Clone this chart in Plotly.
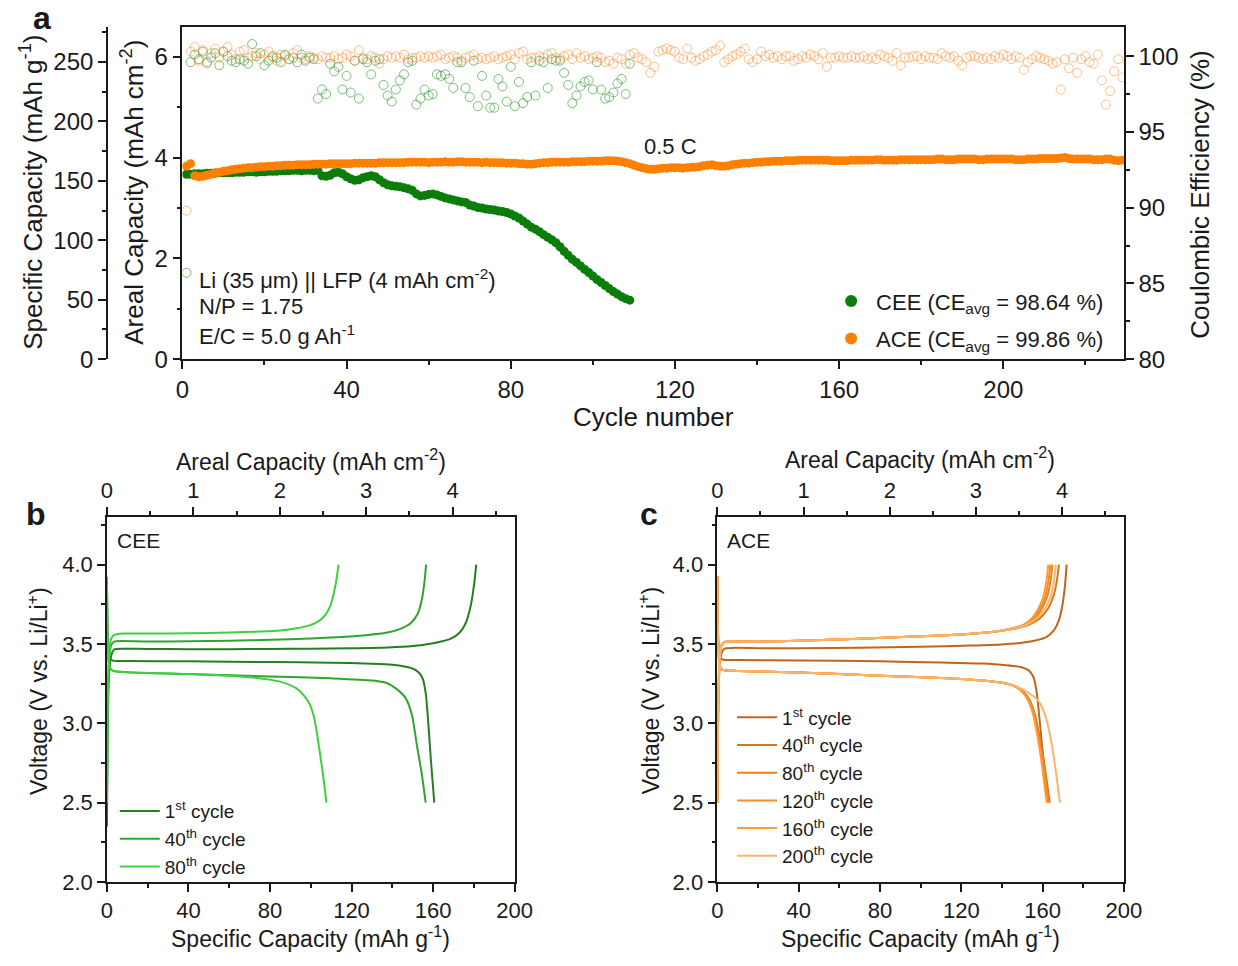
import plotly.graph_objects as go

W, H = 1238, 966
FONT = "Liberation Sans, Arial, sans-serif"
INK = "#1a1a1a"

# ---------------- Panel a data ----------------
cee_capacity = [  # areal capacity, mAh cm-2, cycles 1-109
    3.67, 3.67, 3.68, 3.68, 3.68, 3.69, 3.69, 3.69, 3.70, 3.70,
    3.70, 3.70, 3.71, 3.71, 3.71, 3.72, 3.72, 3.71, 3.72, 3.72,
    3.73, 3.73, 3.73, 3.74, 3.74, 3.74, 3.75, 3.75, 3.74, 3.75,
    3.75, 3.74, 3.75, 3.64, 3.63, 3.65, 3.70, 3.71, 3.68, 3.62,
    3.58, 3.55, 3.56, 3.60, 3.62, 3.64, 3.62, 3.56, 3.50, 3.46,
    3.44, 3.43, 3.42, 3.40, 3.38, 3.35, 3.28, 3.24, 3.25, 3.27,
    3.28, 3.26, 3.23, 3.20, 3.18, 3.16, 3.14, 3.12, 3.11, 3.06,
    3.04, 3.01, 3.00, 2.98, 2.97, 2.96, 2.94, 2.93, 2.91, 2.88,
    2.84, 2.80, 2.74, 2.68, 2.62, 2.58, 2.53, 2.47, 2.42, 2.37,
    2.31, 2.23, 2.14, 2.06, 1.98, 1.92, 1.85, 1.78, 1.72, 1.65,
    1.58, 1.52, 1.46, 1.40, 1.34, 1.29, 1.24, 1.20, 1.17]

ace_capacity = [  # areal capacity, mAh cm-2, cycles 1-229
    3.83, 3.88, 3.64, 3.62, 3.63, 3.65, 3.67, 3.70, 3.71, 3.73,
    3.74, 3.76, 3.77, 3.78, 3.79, 3.80, 3.80, 3.81, 3.82, 3.82,
    3.83, 3.83, 3.84, 3.84, 3.85, 3.85, 3.85, 3.86, 3.86, 3.86,
    3.86, 3.87, 3.87, 3.87, 3.87, 3.88, 3.88, 3.88, 3.88, 3.88,
    3.88, 3.89, 3.89, 3.89, 3.89, 3.89, 3.89, 3.90, 3.90, 3.90,
    3.90, 3.90, 3.90, 3.90, 3.91, 3.91, 3.91, 3.91, 3.91, 3.90,
    3.91, 3.91, 3.91, 3.92, 3.91, 3.91, 3.92, 3.92, 3.91, 3.91,
    3.91, 3.91, 3.90, 3.91, 3.90, 3.90, 3.90, 3.90, 3.89, 3.89,
    3.89, 3.88, 3.88, 3.87, 3.87, 3.88, 3.89, 3.90, 3.90, 3.91,
    3.91, 3.91, 3.91, 3.91, 3.92, 3.92, 3.92, 3.92, 3.93, 3.93,
    3.93, 3.93, 3.94, 3.94, 3.94, 3.93, 3.92, 3.90, 3.88, 3.85,
    3.82, 3.80, 3.78, 3.77, 3.77, 3.78, 3.79, 3.79, 3.80, 3.80,
    3.80, 3.79, 3.80, 3.81, 3.81, 3.82, 3.84, 3.85, 3.86, 3.84,
    3.83, 3.83, 3.84, 3.86, 3.87, 3.88, 3.89, 3.89, 3.90, 3.91,
    3.91, 3.92, 3.92, 3.93, 3.93, 3.93, 3.94, 3.94, 3.94, 3.95,
    3.95, 3.95, 3.95, 3.95, 3.95, 3.95, 3.95, 3.94, 3.94, 3.94,
    3.94, 3.94, 3.95, 3.95, 3.95, 3.95, 3.95, 3.95, 3.96, 3.96,
    3.95, 3.95, 3.95, 3.95, 3.96, 3.96, 3.96, 3.96, 3.96, 3.96,
    3.96, 3.96, 3.96, 3.97, 3.97, 3.96, 3.96, 3.96, 3.97, 3.97,
    3.97, 3.97, 3.97, 3.96, 3.96, 3.97, 3.97, 3.97, 3.97, 3.97,
    3.97, 3.97, 3.96, 3.96, 3.96, 3.97, 3.97, 3.97, 3.98, 3.98,
    3.98, 3.98, 3.98, 3.99, 4.00, 3.98, 3.97, 3.97, 3.97, 3.97,
    3.97, 3.96, 3.96, 3.96, 3.97, 3.97, 3.95, 3.94, 3.95]

cee_ce = [  # Coulombic efficiency %, cycles 1-109
    85.7, 99.6, 100.1, 99.8, 100.3, 99.6, 99.9, 100.2, 99.4, 100.3,
    100.0, 99.7, 99.6, 99.8, 99.7, 99.5, 100.8, 100.0, 100.2, 99.4,
    99.7, 100.0, 99.9, 99.6, 100.1, 99.8, 99.9, 99.6, 100.1, 99.7,
    99.9, 99.8, 97.2, 97.8, 97.5, 99.5, 99.0, 99.3, 97.8, 98.7,
    97.6, 99.7, 97.2, 99.8, 99.6, 98.8, 99.7, 99.8, 98.1, 97.4,
    97.0, 97.8, 98.4, 98.8, 99.6, 99.7, 96.8, 97.2, 97.8, 97.4,
    97.5, 98.8, 98.7, 98.8, 98.5, 97.9, 99.6, 99.6, 97.9, 97.3,
    99.7, 96.7, 98.7, 97.4, 96.6, 96.6, 98.5, 98.0, 97.0, 99.3,
    96.7, 98.3, 96.9, 97.3, 99.6, 97.4, 99.7, 99.6, 97.9, 99.8,
    99.7, 99.7, 98.9, 98.1, 96.9, 97.4, 98.0, 98.3, 98.4, 97.8,
    99.6, 97.8, 97.2, 97.3, 97.6, 98.2, 98.5, 97.5, 99.5]

ace_ce = [  # Coulombic efficiency %, cycles 1-229
    89.8, 100.3, 100.6, 99.7, 100.4, 99.5, 100.2, 100.5, 99.9, 100.3,
    100.6, 100.1, 99.8, 100.3, 100.4, 99.9, 100.0, 100.2, 99.8, 100.1,
    100.3, 99.9, 99.7, 100.1, 100.0, 99.8, 100.2, 100.4, 99.9, 99.8,
    100.0, 99.9, 99.8, 100.0, 99.9, 99.9, 100.0, 99.8, 99.9, 100.1,
    100.0, 99.7, 100.4, 99.9, 99.8, 100.0, 99.9, 99.5, 99.8, 100.0,
    99.9, 100.0, 99.9, 100.1, 99.8, 99.9, 99.9, 100.0, 99.9, 100.0,
    99.9, 100.0, 100.1, 99.8, 99.9, 100.0, 99.9, 99.7, 99.9, 100.0,
    100.1, 99.8, 99.9, 99.8, 99.9, 100.0, 99.8, 99.9, 100.0, 100.1,
    99.8, 100.2, 100.3, 99.8, 99.9, 99.9, 100.0, 99.9, 100.1, 100.2,
    99.9, 99.8, 100.0, 100.1, 99.8, 100.2, 99.9, 100.0, 99.8, 99.9,
    100.0, 99.9, 99.6, 99.7, 99.5, 99.9, 99.8, 99.5, 100.1, 100.2,
    99.9, 99.8, 99.6, 98.9, 99.3, 100.3, 100.4, 100.5, 100.4, 100.3,
    99.9, 99.8, 100.5, 99.9, 99.7, 99.8, 100.0, 100.1, 100.3, 100.4,
    100.7, 99.6, 99.8, 100.0, 100.1, 100.3, 100.5, 99.8, 99.6, 99.8,
    100.3, 100.0, 100.1, 99.9, 100.0, 99.8, 100.0, 100.0, 99.7, 99.8,
    100.0, 99.9, 100.1, 100.0, 99.8, 100.2, 99.3, 99.9, 99.9, 100.0,
    99.9, 99.9, 100.0, 99.9, 99.9, 100.0, 99.8, 99.9, 99.8, 100.1,
    100.0, 99.9, 99.7, 100.2, 99.4, 99.9, 99.9, 100.0, 100.0, 99.8,
    100.0, 99.9, 99.9, 99.8, 100.2, 100.0, 99.9, 100.0, 99.7, 99.4,
    99.9, 100.0, 100.0, 99.9, 99.8, 99.9, 99.8, 100.0, 99.9, 100.1,
    100.0, 99.8, 100.0, 99.9, 99.1, 99.6, 99.8, 100.0, 99.9, 99.8,
    99.7, 99.5, 99.6, 97.8, 99.8, 99.2, 99.9, 98.9, 99.8, 100.0,
    99.6, 99.5, 100.1, 98.4, 96.8, 97.7, 99.0, 99.8, 98.6]

cee_cycles = list(range(1, len(cee_capacity) + 1))
ace_cycles = list(range(1, len(ace_capacity) + 1))
cee_ce_cycles = list(range(1, len(cee_ce) + 1))
ace_ce_cycles = list(range(1, len(ace_ce) + 1))

# conversion between specific (mAh g-1) and areal (mAh cm-2) capacity
SPEC_PER_AREAL = 42.4

# ---------------- Panel b data (CEE voltage profiles) ----------------
cee1_chg_cap = [0, 0.4, 1.0, 2.0, 3.5, 8, 20, 40, 60, 80, 100, 120, 138, 150, 158, 164, 169, 173, 176, 178.5, 180.2, 181.2]
cee1_chg_v = [2.35, 3.00, 3.30, 3.42, 3.465, 3.47, 3.468, 3.467, 3.467, 3.468, 3.47, 3.473, 3.478, 3.487, 3.50, 3.515, 3.535, 3.57, 3.63, 3.74, 3.88, 4.00]
cee1_dis_cap = [0, 0.3, 0.8, 1.5, 3, 10, 40, 80, 110, 130, 140, 146, 150, 153, 155, 156.5, 157.8, 159.0, 160.0, 160.6]
cee1_dis_v = [3.92, 3.60, 3.45, 3.41, 3.395, 3.393, 3.39, 3.386, 3.382, 3.375, 3.368, 3.358, 3.345, 3.32, 3.28, 3.18, 2.98, 2.76, 2.60, 2.50]

cee40_chg_cap = [0, 0.4, 1.0, 2.0, 3.5, 8, 20, 40, 60, 80, 100, 115, 127, 137, 144, 149, 152.5, 154.5, 155.8, 156.6]
cee40_chg_v = [2.50, 3.10, 3.38, 3.49, 3.515, 3.518, 3.515, 3.516, 3.52, 3.526, 3.534, 3.543, 3.555, 3.57, 3.595, 3.63, 3.69, 3.78, 3.89, 4.00]
cee40_dis_cap = [0, 0.3, 0.8, 1.5, 3, 10, 40, 80, 110, 130, 137, 141.7, 146.5, 149.7, 152.1, 154.5, 156.4]
cee40_dis_v = [3.92, 3.55, 3.40, 3.35, 3.33, 3.322, 3.31, 3.295, 3.283, 3.27, 3.255, 3.22, 3.16, 3.05, 2.86, 2.68, 2.50]

cee80_chg_cap = [0, 0.4, 1.0, 2.0, 3.5, 8, 20, 40, 60, 75, 85, 93, 99, 103.5, 107, 109.6, 111.5, 112.8, 113.6]
cee80_chg_v = [2.50, 3.15, 3.42, 3.53, 3.555, 3.565, 3.565, 3.567, 3.572, 3.578, 3.585, 3.598, 3.615, 3.64, 3.68, 3.74, 3.83, 3.92, 4.00]
cee80_dis_cap = [0, 0.3, 0.8, 1.5, 3, 10, 40, 65, 80, 88, 93, 97, 99.5, 101.6, 103.5, 105.2, 106.6, 107.7]
cee80_dis_v = [3.92, 3.55, 3.40, 3.35, 3.33, 3.322, 3.31, 3.295, 3.275, 3.25, 3.22, 3.17, 3.12, 3.04, 2.90, 2.75, 2.62, 2.50]

# ---------------- Panel c data (ACE voltage profiles) ----------------
ace1_chg_cap = [0, 0.4, 1.0, 2.0, 3.5, 8, 20, 40, 70, 100, 125, 140, 150, 157, 162, 165.5, 168.0, 169.8, 171.0, 171.8]
ace1_chg_v = [2.55, 3.05, 3.33, 3.44, 3.47, 3.475, 3.473, 3.472, 3.476, 3.482, 3.49, 3.497, 3.507, 3.523, 3.545, 3.585, 3.65, 3.75, 3.87, 4.00]
ace1_dis_cap = [0, 0.3, 0.8, 1.5, 3, 10, 40, 80, 110, 130, 142, 149, 153, 155.5, 157, 158.2, 159.4, 160.6, 161.6, 162.4]
ace1_dis_v = [3.93, 3.60, 3.45, 3.41, 3.40, 3.398, 3.396, 3.39, 3.383, 3.376, 3.366, 3.355, 3.335, 3.29, 3.20, 3.06, 2.90, 2.74, 2.60, 2.50]

ace_chg_v = [2.50, 3.10, 3.38, 3.49, 3.512, 3.515, 3.514, 3.52, 3.532, 3.548, 3.56, 3.575, 3.595, 3.62, 3.66, 3.72, 3.80, 3.90, 4.00]
ace40_chg_cap = [0, 0.4, 1.0, 2.0, 3.5, 8, 20, 40, 70, 100, 120, 135, 146, 153, 158.5, 162.5, 165.3, 167.0, 168.0]
ace80_chg_cap = [0, 0.4, 1.0, 2.0, 3.5, 8, 20, 40, 70, 100, 120, 135, 145, 151.5, 156, 159.5, 162.3, 163.9, 164.8]
ace120_chg_cap = [0, 0.4, 1.0, 2.0, 3.5, 8, 20, 40, 70, 100, 120, 135, 144.5, 151, 155.3, 158.6, 161.3, 162.9, 163.8]
ace160_chg_cap = [0, 0.4, 1.0, 2.0, 3.5, 8, 20, 40, 70, 100, 120, 135, 144, 150.5, 154.6, 157.8, 160.4, 161.9, 162.8]
ace200_chg_cap = [0, 0.4, 1.0, 2.0, 3.5, 8, 20, 40, 70, 100, 120, 135, 145.5, 152, 157, 161, 164, 165.6, 166.5]

ace_dis_v = [3.92, 3.55, 3.40, 3.35, 3.335, 3.33, 3.32, 3.30, 3.285, 3.27, 3.255, 3.235, 3.20, 3.14, 3.04, 2.90, 2.76, 2.62, 2.50]
ace40_dis_cap = [0, 0.3, 0.8, 1.5, 3, 10, 40, 80, 110, 130, 140, 146, 150.5, 153.8, 156.5, 158.7, 160.6, 162.2, 163.5]
ace80_dis_cap = [0, 0.3, 0.8, 1.5, 3, 10, 40, 80, 110, 130, 140, 146, 150.3, 153.5, 156.2, 158.4, 160.2, 161.8, 163.0]
ace120_dis_cap = [0, 0.3, 0.8, 1.5, 3, 10, 40, 80, 110, 130, 140, 146, 150.0, 153.2, 155.9, 158.0, 159.8, 161.3, 162.5]
ace160_dis_cap = [0, 0.3, 0.8, 1.5, 3, 10, 40, 80, 110, 130, 140, 146, 149.8, 153.0, 155.6, 157.7, 159.4, 160.8, 162.0]
ace200_dis_cap = [0, 0.3, 0.8, 1.5, 3, 10, 40, 80, 110, 130, 140, 146.5, 152, 158, 161.5, 164.0, 165.8, 167.3, 168.5]

cee_labels = ["1<sup>st</sup> cycle", "40<sup>th</sup> cycle", "80<sup>th</sup> cycle"]
ace_labels = ["1<sup>st</sup> cycle", "40<sup>th</sup> cycle", "80<sup>th</sup> cycle",
              "120<sup>th</sup> cycle", "160<sup>th</sup> cycle", "200<sup>th</sup> cycle"]
cee_colors = ["#237f23", "#2fa52f", "#3fd03f"]
ace_colors = ["#c0661c", "#d9761c", "#f27f12", "#f78d22", "#f99c3c", "#fbb46a"]

cee_profiles = [(cee1_chg_cap, cee1_chg_v, cee1_dis_cap, cee1_dis_v),
                (cee40_chg_cap, cee40_chg_v, cee40_dis_cap, cee40_dis_v),
                (cee80_chg_cap, cee80_chg_v, cee80_dis_cap, cee80_dis_v)]
ace_profiles = [(ace1_chg_cap, ace1_chg_v, ace1_dis_cap, ace1_dis_v),
                (ace40_chg_cap, ace_chg_v, ace40_dis_cap, ace_dis_v),
                (ace80_chg_cap, ace_chg_v, ace80_dis_cap, ace_dis_v),
                (ace120_chg_cap, ace_chg_v, ace120_dis_cap, ace_dis_v),
                (ace160_chg_cap, ace_chg_v, ace160_dis_cap, ace_dis_v),
                (ace200_chg_cap, ace_chg_v, ace200_dis_cap, ace_dis_v)]

GREEN = "#0b7d0b"
ORANGE = "#ff8000"

fig = go.Figure()

# CE (open circles, right axis)
fig.add_trace(go.Scatter(x=cee_ce_cycles, y=cee_ce, mode="markers", yaxis="y3", xaxis="x",
                         marker=dict(symbol="circle-open", size=9, color="rgba(40,150,40,0.6)", line=dict(width=1)),
                         showlegend=False, hoverinfo="skip"))
fig.add_trace(go.Scatter(x=ace_ce_cycles, y=ace_ce, mode="markers", yaxis="y3", xaxis="x",
                         marker=dict(symbol="circle-open", size=9, color="rgba(255,140,50,0.55)", line=dict(width=1)),
                         showlegend=False, hoverinfo="skip"))
# Capacity (filled, left areal axis)
fig.add_trace(go.Scatter(x=cee_cycles, y=cee_capacity, mode="markers", xaxis="x", yaxis="y",
                         marker=dict(size=9, color=GREEN), legendgroup="g1",
                         name="CEE (CE<sub>avg</sub> = 98.64 %)", legend="legend"))
fig.add_trace(go.Scatter(x=ace_cycles, y=ace_capacity, mode="markers", xaxis="x", yaxis="y",
                         marker=dict(size=9, color=ORANGE), legendgroup="g2",
                         name="ACE (CE<sub>avg</sub> = 99.86 %)", legend="legend"))
# same capacity on the specific-capacity scale (transparent, keeps that axis drawn)
fig.add_trace(go.Scatter(x=ace_cycles, y=[c * SPEC_PER_AREAL for c in ace_capacity], mode="markers",
                         xaxis="x", yaxis="y2", marker=dict(size=1, opacity=0),
                         showlegend=False, hoverinfo="skip"))

def add_profiles(profiles, labels, colors, xa, xa_top, ya, leg):
    for (cc, cv, dc, dv), lab, col in zip(profiles, labels, colors):
        fig.add_trace(go.Scatter(x=list(cc) + [None] + list(dc), y=list(cv) + [None] + list(dv),
                                 mode="lines", xaxis=xa, yaxis=ya, name=lab, legend=leg,
                                 line=dict(color=col, width=2, shape="spline", smoothing=0.6),
                                 connectgaps=False))
    # areal-capacity twin of the first profile (transparent, keeps the top axis drawn)
    cc, cv, dc, dv = profiles[0]
    fig.add_trace(go.Scatter(x=[c / SPEC_PER_AREAL for c in cc], y=cv, mode="lines",
                             xaxis=xa_top, yaxis=ya, line=dict(width=0.1, color="rgba(0,0,0,0)"),
                             showlegend=False, hoverinfo="skip"))

add_profiles(cee_profiles, cee_labels, cee_colors, "x2", "x3", "y4", "legend2")
add_profiles(ace_profiles, ace_labels, ace_colors, "x4", "x5", "y5", "legend3")

def ax(**kw):
    base = dict(showline=True, linecolor=INK, linewidth=1.5, ticks="outside", ticklen=8,
                tickwidth=1.5, tickcolor=INK, showgrid=False, zeroline=False,
                tickfont=dict(size=24, color=INK, family=FONT))
    base.update(kw)
    return base

def minor(d):
    return dict(ticks="outside", ticklen=4, tickwidth=1.5, tickcolor=INK, dtick=d, showgrid=False)

ya_b = [1 - 894 / H, 1 - 524 / H]
TF22 = dict(size=22, color=INK, family=FONT)

fig.update_layout(
    width=W, height=H, margin=dict(l=0, r=0, t=0, b=0),
    paper_bgcolor="white", plot_bgcolor="white",
    font=dict(family=FONT, color=INK, size=22),
    xaxis=ax(domain=[179 / W, 1140 / W], range=[0, 229.4], anchor="y", mirror=True,
             dtick=40, tick0=0, minor=minor(20)),
    yaxis=ax(domain=[1 - 364 / H, 1 - 27 / H], range=[0, 6.6], anchor="x",
             dtick=2, tick0=0, minor=minor(1)),
    yaxis2=ax(overlaying="y", anchor="free", position=102 / W, side="left",
              range=[0, 6.6 * SPEC_PER_AREAL], dtick=50, tick0=0, minor=minor(25)),
    yaxis3=ax(overlaying="y", anchor="x", side="right", range=[80, 101.95],
              dtick=5, tick0=80, minor=minor(2.5)),
    xaxis2=ax(domain=[102 / W, 518 / W], range=[0, 200], anchor="y4", dtick=40, tick0=0,
              minor=minor(20), tickfont=TF22),
    xaxis3=ax(overlaying="x2", side="top", anchor="y4", range=[0, 200 / SPEC_PER_AREAL], dtick=1, tick0=0,
              minor=minor(0.5), tickfont=TF22),
    yaxis4=ax(domain=ya_b, range=[2.0, 4.3], anchor="x2", dtick=0.5, tick0=2.0, tickformat=".1f",
              minor=minor(0.25), mirror=True, tickfont=TF22),
    xaxis4=ax(domain=[725 / W, 1140 / W], range=[0, 200], anchor="y5", dtick=40, tick0=0,
              minor=minor(20), tickfont=TF22),
    xaxis5=ax(overlaying="x4", side="top", anchor="y5", range=[0, 200 / SPEC_PER_AREAL], dtick=1, tick0=0,
              minor=minor(0.5), tickfont=TF22),
    yaxis5=ax(domain=ya_b, range=[2.0, 4.3], anchor="x4", dtick=0.5, tick0=2.0, tickformat=".1f",
              minor=minor(0.25), mirror=True, tickfont=TF22),
    legend=dict(x=836 / W, y=1 - 284 / H, xanchor="left", yanchor="top", bgcolor="rgba(0,0,0,0)",
                font=dict(size=22, family=FONT, color=INK), tracegroupgap=6, itemsizing="constant",
                itemwidth=40),
    legend2=dict(x=110 / W, y=1 - 803 / H, xanchor="left", yanchor="top", bgcolor="rgba(0,0,0,0)",
                 font=dict(size=19, family=FONT, color=INK), tracegroupgap=0, itemwidth=40),
    legend3=dict(x=740 / W, y=1 - 708 / H, xanchor="left", yanchor="top", bgcolor="rgba(0,0,0,0)",
                 font=dict(size=19, family=FONT, color=INK), tracegroupgap=0, itemwidth=40),
)

def ann(text, px, py, size=22, xanchor="center", angle=0, bold=False):
    t = f"<b>{text}</b>" if bold else text
    fig.add_annotation(text=t, x=px / W, y=1 - py / H, xref="paper", yref="paper",
                       xanchor=xanchor, yanchor="middle", showarrow=False, textangle=angle,
                       font=dict(size=size, family=FONT, color=INK))

# panel labels
ann("a", 36, 18, size=32, bold=True)
ann("b", 30, 521, size=32, bold=True)
ann("c", 655, 521, size=32, bold=True)

# panel a texts
ann("Li (35 μm) || LFP (4 mAh cm<sup>-2</sup>)", 194, 283, xanchor="left")
ann("N/P = 1.75", 194, 311, xanchor="left")
ann("E/C = 5.0 g Ah<sup>-1</sup>", 194, 340, xanchor="left")
ann("0.5 C", 677, 148)
ann("Cycle number", 660, 423, size=26)
ann("Specific Capacity (mAh g<sup>-1</sup>)", 25, 195, size=26, angle=-90)
ann("Areal Capacity (mAh cm<sup>-2</sup>)", 128, 195, size=26, angle=-90)
ann("Coulombic Efficiency (%)", 1218, 197, size=26, angle=-90)

# panel b texts
ann("CEE", 110, 548, size=21, xanchor="left")
ann("Specific Capacity (mAh g<sup>-1</sup>)", 310, 950, size=23)
ann("Areal Capacity (mAh cm<sup>-2</sup>)", 310, 466, size=23)
ann("Voltage (V vs. Li/Li<sup>+</sup>)", 31, 700, size=23, angle=-90)

# panel c texts
ann("ACE", 733, 548, size=21, xanchor="left")
ann("Specific Capacity (mAh g<sup>-1</sup>)", 932, 950, size=23)
ann("Areal Capacity (mAh cm<sup>-2</sup>)", 932, 464, size=23)
ann("Voltage (V vs. Li/Li<sup>+</sup>)", 655, 700, size=23, angle=-90)

fig.write_html("out.html",
               post_script="document.body.style.margin='0';document.body.style.padding='0';"
                           "document.documentElement.style.overflow='hidden';")
